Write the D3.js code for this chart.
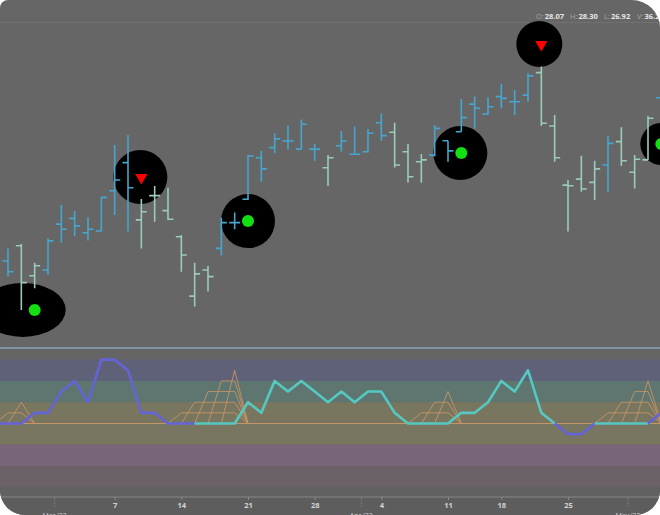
<!DOCTYPE html>
<html>
<head>
<meta charset="utf-8">
<script src="https://cdn.jsdelivr.net/npm/d3@7"></script>
<style>
  html, body { margin: 0; padding: 0; background: #fff; }
  svg { display: block; font-family: "Open Sans", "Liberation Sans", sans-serif; }
</style>
</head>
<body>
<div id="chart"></div>
<script>
// trading days shown (weekends and Good Friday skipped)
const dates = ["2022-02-22","2022-02-23","2022-02-24","2022-02-25","2022-02-28","2022-03-01","2022-03-02","2022-03-03","2022-03-04","2022-03-07","2022-03-08","2022-03-09","2022-03-10","2022-03-11","2022-03-14","2022-03-15","2022-03-16","2022-03-17","2022-03-18","2022-03-21","2022-03-22","2022-03-23","2022-03-24","2022-03-25","2022-03-28","2022-03-29","2022-03-30","2022-03-31","2022-04-01","2022-04-04","2022-04-05","2022-04-06","2022-04-07","2022-04-08","2022-04-11","2022-04-12","2022-04-13","2022-04-14","2022-04-18","2022-04-19","2022-04-20","2022-04-21","2022-04-22","2022-04-25","2022-04-26","2022-04-27","2022-04-28","2022-04-29","2022-05-02","2022-05-03","2022-05-04"]

const opens  = [22.00,22.63,23.14,22.14,22.33,23.86,24.05,23.57,23.63,24.97,25.91,24.00,24.81,24.31,23.44,21.46,22.33,23.05,23.91,24.69,26.07,26.41,26.63,26.36,26.36,25.74,26.47,26.19,26.27,27.24,26.92,26.27,25.94,26.16,26.64,26.94,27.86,27.53,28.11,27.94,28.16,28.91,27.13,25.16,25.36,25.25,25.83,26.61,25.59,26.00,28.07]
const highs  = [22.60,23.05,23.20,22.57,23.39,24.50,24.30,24.09,24.77,26.50,26.83,24.70,25.13,25.07,23.50,22.57,22.46,24.07,24.25,26.16,26.30,26.89,27.14,27.35,26.53,26.16,26.96,27.11,27.03,27.55,27.24,26.53,26.20,27.16,26.64,28.03,28.11,28.09,28.53,28.33,28.89,29.11,27.50,25.33,26.14,25.97,26.80,27.09,26.16,27.46,28.30]
const lows   = [21.83,22.11,21.00,21.72,22.16,23.24,23.46,23.31,23.61,24.16,23.61,23.05,23.94,24.00,22.27,21.11,21.61,22.81,23.69,24.66,25.27,26.22,26.35,26.35,25.97,25.13,26.27,26.16,26.25,26.64,25.75,25.25,25.24,26.11,25.94,26.94,27.05,27.50,27.72,27.50,27.94,27.13,25.94,23.61,24.94,24.66,24.94,25.80,25.05,26.00,26.92]
const closes = [22.26,22.27,21.91,22.47,23.30,23.69,23.80,23.69,24.75,25.33,25.07,24.27,24.81,24.02,22.83,22.20,22.11,23.91,23.91,26.13,25.70,26.70,26.63,27.19,26.36,26.07,26.63,26.19,26.89,26.81,25.83,25.44,26.00,27.05,26.30,27.41,27.72,27.77,28.05,27.94,28.80,27.22,26.07,25.14,25.03,25.70,26.55,25.97,26.02,27.39,27.60]
// 1 = trend bar (blue), 0 = other bar (pale)
const trend  = [1,1,0,0,1,1,1,1,1,1,1,0,0,0,0,0,0,1,1,1,1,1,1,1,1,0,1,1,1,1,0,0,0,1,1,1,1,1,1,1,1,0,0,0,0,0,1,0,0,0,1]
const volume = "36.21M"

// lower panel
const signal = [0,0,0,0.5,0.5,1.5,2,1,3,3,2.5,0.5,0.5,0,0,0,0,0,0,1,0.5,2,1.5,2,1.5,1,1.5,1,1.5,1.5,0.5,0,0,0,0,0.5,0.5,1,2,1.5,2.5,0.5,0,-0.5,-0.5,0,0,0,0,0,0.5]
const signalState = [0,0,0,0,0,0,0,0,0,0,0,0,0,0,0,0,1,1,1,1,1,1,1,1,1,1,1,1,1,1,1,1,1,1,1,1,1,1,1,1,1,1,1,0,0,0,1,1,1,1,0]
const streak = [0,1,2,0,0,0,0,0,0,0,0,0,0,0,1,2,3,4,5,0,0,0,0,0,0,0,0,0,0,0,0,0,1,2,3,0,0,0,0,0,0,0,0,0,0,0,1,2,3,4,0]
const bandLevels = [3.5,3,2,1,0,-1,-2,-3,-3.5]

// signal markers
const markerDates  = ["2022-02-25","2022-03-09","2022-03-21","2022-04-12","2022-04-21","2022-05-04"]
const markerPrices = [21.00,25.43,23.96,26.23,29.86,26.53]
const markerTypes  = ["buy","sell","buy","buy","sell","buy"]

// axis ticks
const dayTicks    = ["2022-03-07","2022-03-14","2022-03-21","2022-03-28","2022-04-04","2022-04-11","2022-04-18","2022-04-25"]
const monthStarts = ["2022-03-01","2022-04-01","2022-05-02"]
const monthLabels = ["Mar '22","Apr '22","May '22"]

// styles
const W = 660, H = 515
const mainBottom = 348, panelTop = 348, panelBottom = 497
const bandColors = ["#656565","#5f6178","#5e766f","#797660","#787560","#78657a","#6b6169","#616161"]
const markerShape = [[43,27,-12],[27,27,-1],[27,27,0],[27,27,-1],[23,23,-2],[21,21,0]]
const blue = "#46a6cf", pale = "#9ccabb"
const purple = "#6464d8", teal = "#55c9c1", mesh = "#c69467"

const x = d3.scalePoint().domain(dates).range([-5.33, 661.33])
const y = d3.scaleLinear().domain([19.73, 31.33]).range([mainBottom, 0])
const yInd = d3.scaleLinear().domain([-3.5, 3.5]).range([498, 349])

const svg = d3.select("#chart").append("svg")
	.attr("width", W)
	.attr("height", H)

function framePath(w, h, tl, tr, br, bl) {
	return "M" + tl + ",0 H" + (w - tr) + " A" + tr + "," + tr + " 0 0 1 " + w + "," + tr +
		" V" + (h - br) + " A" + br + "," + br + " 0 0 1 " + (w - br) + "," + h +
		" H" + bl + " A" + bl + "," + bl + " 0 0 1 0," + (h - bl) +
		" V" + tl + " A" + tl + "," + tl + " 0 0 1 " + tl + ",0 Z"
}

svg.append("rect").attr("width", W).attr("height", H).attr("fill", "#fff")
svg.append("clipPath").attr("id", "frame")
	.append("path").attr("d", framePath(W, H, 8, 28, 25, 25))

const g = svg.append("g").attr("clip-path", "url(#frame)")

g.append("rect").attr("width", W).attr("height", H).attr("fill", "#666")
g.append("rect").attr("y", panelBottom).attr("width", W).attr("height", H - panelBottom).attr("fill", "#5d5d5d")

// header line
g.append("line").attr("x1", 0).attr("x2", W).attr("y1", 22.5).attr("y2", 22.5)
	.attr("stroke", "#717171").attr("stroke-width", 1)

// indicator bands
g.selectAll("rect.band")
	.data(d3.pairs(bandLevels))
	.enter()
	.append("rect")
	.attr("class", "band")
	.attr("x", 0)
	.attr("width", W)
	.attr("y", function(d){return yInd(d[0])})
	.attr("height", function(d){return yInd(d[1]) - yInd(d[0])})
	.attr("fill", function(d, i){return bandColors[i]})

// markers: black discs under the bars
const markers = markerDates.map(function(d, i){
	return {date: d, price: markerPrices[i], type: markerTypes[i], shape: markerShape[i]}
})

g.selectAll("ellipse.marker")
	.data(markers)
	.enter()
	.append("ellipse")
	.attr("class", "marker")
	.attr("cx", function(d){return x(d.date) + d.shape[2]})
	.attr("cy", function(d){return y(d.price)})
	.attr("rx", function(d){return d.shape[0]})
	.attr("ry", function(d){return d.shape[1]})
	.attr("fill", "#000")

// OHLC bars
const bars = dates.map(function(d, i){
	return {date: d, o: opens[i], h: highs[i], l: lows[i], c: closes[i], t: trend[i]}
})
const tick = 5.5

const barG = g.append("g")
	.attr("stroke-width", 1.6)
	.attr("fill", "none")

barG.selectAll("path")
	.data(bars)
	.enter()
	.append("path")
	.attr("stroke", function(d){return d.t ? blue : pale})
	.attr("d", function(d){
		const cx = x(d.date)
		return "M" + cx + "," + y(d.h) + "V" + y(d.l) +
			"M" + (cx - tick) + "," + y(d.o) + "H" + cx +
			"M" + cx + "," + y(d.c) + "H" + (cx + tick)
	})

// marker symbols
g.selectAll("circle.buy")
	.data(markers.filter(function(d){return d.type === "buy"}))
	.enter()
	.append("circle")
	.attr("class", "buy")
	.attr("cx", function(d){return x(d.date)})
	.attr("cy", function(d){return y(d.price)})
	.attr("r", 6)
	.attr("fill", "#12e012")

g.selectAll("path.sell")
	.data(markers.filter(function(d){return d.type === "sell"}))
	.enter()
	.append("path")
	.attr("class", "sell")
	.attr("d", d3.symbol(d3.symbolTriangle, 64))
	.attr("transform", function(d){return "translate(" + x(d.date) + "," + (y(d.price) + 0.5) + ") rotate(180)"})
	.attr("fill", "#ff0000")

// separator and panel bottom
g.append("line").attr("x1", 0).attr("x2", W).attr("y1", panelTop).attr("y2", panelTop)
	.attr("stroke", "#8ea3b3").attr("stroke-width", 1.5)
g.append("line").attr("x1", 0).attr("x2", W).attr("y1", panelBottom).attr("y2", panelBottom)
	.attr("stroke", "#7a7a7a").attr("stroke-width", 1.5)

// orange mesh: one line per streak level
g.append("line").attr("x1", 0).attr("x2", W).attr("y1", yInd(0)).attr("y2", yInd(0))
	.attr("stroke", mesh).attr("stroke-width", 1)

const levels = d3.range(1, d3.max(streak) + 1)
g.selectAll("path.mesh")
	.data(levels)
	.enter()
	.append("path")
	.attr("class", "mesh")
	.attr("fill", "none")
	.attr("stroke", mesh)
	.attr("stroke-width", 0.9)
	.attr("d", function(k){
		return d3.line()
			.x(function(d){return x(d)})
			.y(function(d, i){return yInd(streak[i] >= k ? 0.5 * k : 0)})(dates)
	})

// signal line, coloured by state
const runs = []
for (let i = 1; i < dates.length; i++) {
	const last = runs[runs.length - 1]
	if (last && last.state === signalState[i]) last.idx.push(i)
	else runs.push({state: signalState[i], idx: [i - 1, i]})
}

const sigLine = d3.line()
	.x(function(i){return x(dates[i])})
	.y(function(i){return yInd(signal[i])})

g.selectAll("path.signal")
	.data(runs)
	.enter()
	.append("path")
	.attr("class", "signal")
	.attr("fill", "none")
	.attr("stroke", function(d){return d.state ? teal : purple})
	.attr("stroke-width", 2.6)
	.attr("stroke-linejoin", "round")
	.attr("d", function(d){return sigLine(d.idx)})

// x axis
const xAxisCall = d3.axisBottom(x)
	.tickValues(dayTicks)
	.tickFormat(function(d){return +d.slice(8)})
	.tickSize(3)
	.tickPadding(3)

const xAxis = g.append("g")
	.attr("class", "x axis")
	.attr("transform", "translate(0, " + panelBottom + ")")
	.call(xAxisCall)
xAxis.select(".domain").remove()
xAxis.selectAll("line").attr("stroke", "#8a8a8a")
xAxis.selectAll("text")
	.attr("fill", "#d4d4d4")
	.attr("font-size", "7.5px")
	.attr("font-weight", "bold")
	.attr("font-family", "'Open Sans', sans-serif")

const months = monthStarts.map(function(d, i){
	const k = dates.indexOf(d)
	return {pos: (x(dates[k - 1]) + x(d)) / 2, label: monthLabels[i]}
})

g.selectAll("line.month")
	.data(months)
	.enter()
	.append("line")
	.attr("class", "month")
	.attr("x1", function(d){return d.pos})
	.attr("x2", function(d){return d.pos})
	.attr("y1", panelBottom + 1)
	.attr("y2", panelBottom + 11)
	.attr("stroke", "#8a8a8a")
	.attr("stroke-dasharray", "1,1.5")

// month labels sit on the lower edge, half cut off as in the source
g.selectAll("text.month")
	.data(months)
	.enter()
	.append("text")
	.attr("class", "month")
	.attr("x", function(d){return d.pos})
	.attr("y", 517.5)
	.attr("text-anchor", "middle")
	.attr("font-size", "7px")
	.attr("fill", "#cfcfcf")
	.text(function(d){return d.label})

// header readout from the latest bar
const last = dates.length - 1
const header = [
	{label: "O:", value: opens[last].toFixed(2), x: 536},
	{label: "H:", value: highs[last].toFixed(2), x: 570},
	{label: "L:", value: lows[last].toFixed(2), x: 604},
	{label: "V:", value: volume, x: 637}
]
const hdr = g.selectAll("text.hdr")
	.data(header)
	.enter()
	.append("text")
	.attr("class", "hdr")
	.attr("x", function(d){return d.x})
	.attr("y", 19)
	.attr("font-size", "7.5px")
hdr.append("tspan").attr("fill", "#a4a4a4").text(function(d){return d.label})
hdr.append("tspan").attr("fill", "#e6e6e6").attr("font-weight", "bold").attr("dx", 1).text(function(d){return d.value})
</script>
</body>
</html>
